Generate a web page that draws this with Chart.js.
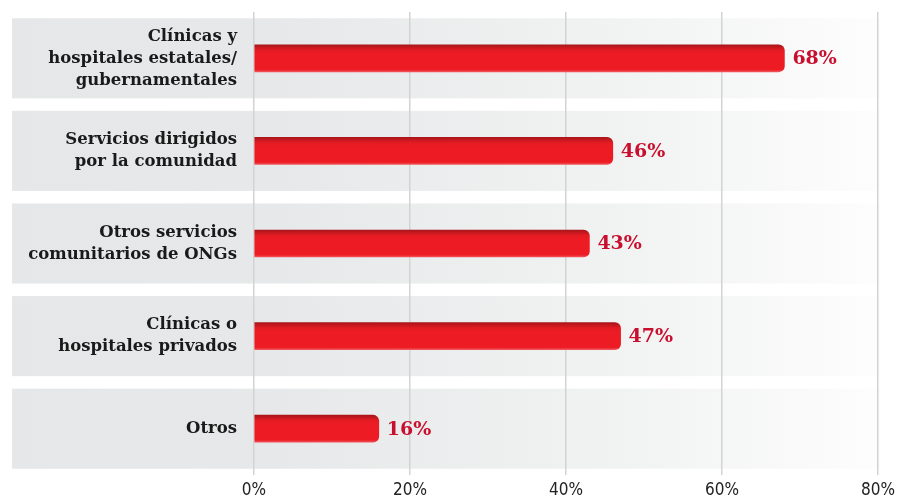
<!DOCTYPE html>
<html>
<head>
<meta charset="utf-8">
<title>Servicios</title>
<script src="https://cdn.jsdelivr.net/npm/chart.js@4.4.1/dist/chart.umd.min.js"></script>
<style>
  html, body { margin: 0; padding: 0; background: #fff; }
  #wrap { width: 911px; height: 497px; }
</style>
</head>
<body>
<div id="wrap"><canvas id="barChart"></canvas></div>
<script>
const categories = [
  ["Clínicas y", "hospitales estatales/", "gubernamentales"],
  ["Servicios dirigidos", "por la comunidad"],
  ["Otros servicios", "comunitarios de ONGs"],
  ["Clínicas o", "hospitales privados"],
  ["Otros"]
];
const values = [68, 46, 43, 47, 16];
const tickValues = [0, 20, 40, 60, 80];

const labelFont = "'DejaVu Serif', serif";

// grey bands behind each row, fading to white on the right
const rowBands = {
  id: "rowBands",
  beforeDraw(chart) {
    const { ctx, scales: { y, x } } = chart;
    const step = y.getPixelForValue(1) - y.getPixelForValue(0);
    const bandH = step * 0.865;
    const left = 12, right = x.right + 2;
    const grad = ctx.createLinearGradient(left, 0, right, 0);
    grad.addColorStop(0, "#e6e7e8");
    grad.addColorStop(0.3, "#e7e8e9");
    grad.addColorStop(0.7, "#f1f2f2");
    grad.addColorStop(1, "#fdfdfd");
    ctx.save();
    ctx.fillStyle = grad;
    categories.forEach((c, i) => {
      const cy = y.getPixelForValue(i);
      ctx.fillRect(left, cy - bandH / 2, right - left, bandH);
    });
    ctx.restore();
  }
};

// percentage text after each bar
const valueLabels = {
  id: "valueLabels",
  afterDatasetsDraw(chart) {
    const { ctx } = chart;
    const meta = chart.getDatasetMeta(0);
    ctx.save();
    ctx.font = "bold 19px " + labelFont;
    ctx.fillStyle = "#c8102e";
    ctx.textBaseline = "middle";
    ctx.textAlign = "left";
    meta.data.forEach((bar, i) => {
      ctx.fillText(values[i] + "%", bar.x + 8, bar.y + 1);
    });
    ctx.restore();
  }
};

function barFill(context) {
  const chart = context.chart;
  const y = chart.scales && chart.scales.y;
  if (!chart.chartArea || !y) return "#ed1c24";
  const cy = y.getPixelForValue(context.dataIndex);
  const g = chart.ctx.createLinearGradient(0, cy - 13.5, 0, cy + 13.5);
  g.addColorStop(0, "#a9161b");
  g.addColorStop(0.2, "#e41b23");
  g.addColorStop(0.35, "#ed1c24");
  g.addColorStop(0.92, "#ed1c24");
  g.addColorStop(1, "#f0555a");
  return g;
}

new Chart(document.getElementById("barChart"), {
  type: "bar",
  data: {
    labels: categories,
    datasets: [{
      data: values,
      backgroundColor: barFill,
      borderRadius: 6,
      borderSkipped: "start",
      barThickness: 27
    }]
  },
  options: {
    indexAxis: "y",
    responsive: true,
    maintainAspectRatio: false,
    animation: false,
    layout: { padding: { top: 12, right: 33, left: 0, bottom: 0 } },
    plugins: {
      legend: { display: false },
      tooltip: { enabled: false }
    },
    scales: {
      x: {
        min: 0,
        max: 80,
        afterBuildTicks(scale) {
          scale.ticks = tickValues.map(v => ({ value: v }));
        },
        afterFit(scale) {
          scale.height = 22;
          scale.paddingLeft = 0;
          scale.paddingRight = 0;
        },
        grid: {
          color: "#d3d3d3",
          lineWidth: 1.5,
          drawTicks: false
        },
        border: { display: false },
        ticks: {
          padding: 5,
          color: "#222",
          font: { family: "'Liberation Sans Narrow', 'DejaVu Sans Condensed', sans-serif", size: 17 },
          callback: v => v + "%"
        }
      },
      y: {
        afterFit(scale) {
          scale.width = 254;
          scale.paddingTop = 0;
          scale.paddingBottom = 0;
        },
        grid: { display: false, drawTicks: false },
        border: { display: false },
        ticks: {
          padding: 17,
          color: "#1a1a1a",
          font: { family: labelFont, size: 16.5, weight: "bold", lineHeight: 1.33 }
        }
      }
    }
  },
  plugins: [rowBands, valueLabels]
});
</script>
</body>
</html>
